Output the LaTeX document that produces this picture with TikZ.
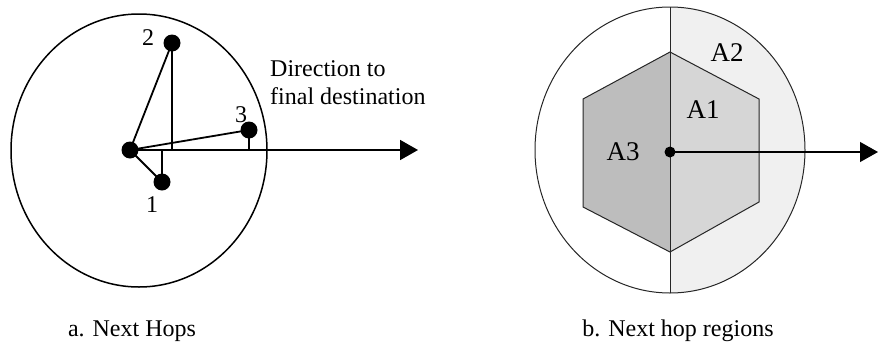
\documentclass[tikz,border=0pt]{standalone}
\usepackage{fontspec}
\setmainfont{Liberation Serif}
\usepackage{tikz}
\usetikzlibrary{arrows.meta,positioning,calc}

\begin{document}
\begin{tikzpicture}[x=1pt,y=-1pt,
  hop/.style={circle,fill=black,inner sep=0pt,minimum size=17pt},
  link/.style={line width=1.8pt},
  dir/.style={-{Triangle[length=18pt,width=20pt]},line width=1.8pt},
  region/.style={draw=black!85,line width=1pt},
  lbl/.style={font=\fontsize{24}{28}\selectfont},
  area/.style={font=\fontsize{27}{30}\selectfont},
]
  \useasboundingbox (0,0) rectangle (879,346);

  % a. next hops
  \draw[line width=1.5pt] (139,150.5) ellipse [x radius=128,y radius=136.5];
  \node[hop] (src) at (130,150) {};
  \foreach \i/\x/\y in {1/162/182,2/172/43,3/249/130} {
    \node[hop] (n\i) at (\x,\y) {};
    \coordinate (f\i) at (\x,150);
  }
  \coordinate (dest) at (418,150);
  \draw[dir] (src.center) -- (dest);
  \foreach \i in {1,2,3} {
    \draw[link] (src.center) -- (n\i.center);
    \draw[link] (n\i.center) -- (f\i);
  }
  \node[lbl] (l1) at (152,205) {1};
  \node[lbl] (l2) at (148,38) {2};
  \node[lbl] (l3) at (241,115) {3};
  \node[anchor=base west,inner sep=0pt,align=left,
    font=\fontsize{24}{28}\selectfont] (txt) at (270,104)
    {Direction to\\final destination};
  \node[anchor=base,inner sep=0pt,font=\fontsize{24}{28}\selectfont]
    (capa) at (132,336) {a. Next Hops};

  % b. next hop regions
  \begin{scope}
    \clip (670,0) rectangle (879,346);
    \fill[black!6] (670,150) ellipse [x radius=135,y radius=143];
  \end{scope}
  \fill[black!16] (670,52) -- (759,99) -- (759,202) -- (670,252) -- cycle;
  \fill[black!26] (670,52) -- (583,99) -- (583,207) -- (670,252) -- cycle;
  \draw[region] (670,150) ellipse [x radius=135,y radius=143];
  \draw[region] (670,52) -- (759,99) -- (759,202) -- (670,252)
    -- (583,207) -- (583,99) -- cycle;
  \draw[region] (670,7) -- (670,293);
  \node[circle,fill=black,inner sep=0pt,minimum size=11pt] (ctr) at (670,152) {};
  \coordinate (goal) at (878,152);
  \draw[-{Triangle[length=18pt,width=20pt]},line width=1.2pt] (ctr.center) -- (goal);
  \node[area] (a1) at (703,110) {A1};
  \node[area] (a2) at (727,53) {A2};
  \node[area] (a3) at (623,152) {A3};
  \node[anchor=base,inner sep=0pt,font=\fontsize{24}{28}\selectfont]
    (capb) at (678,336) {b. Next hop regions};
\end{tikzpicture}
\end{document}
